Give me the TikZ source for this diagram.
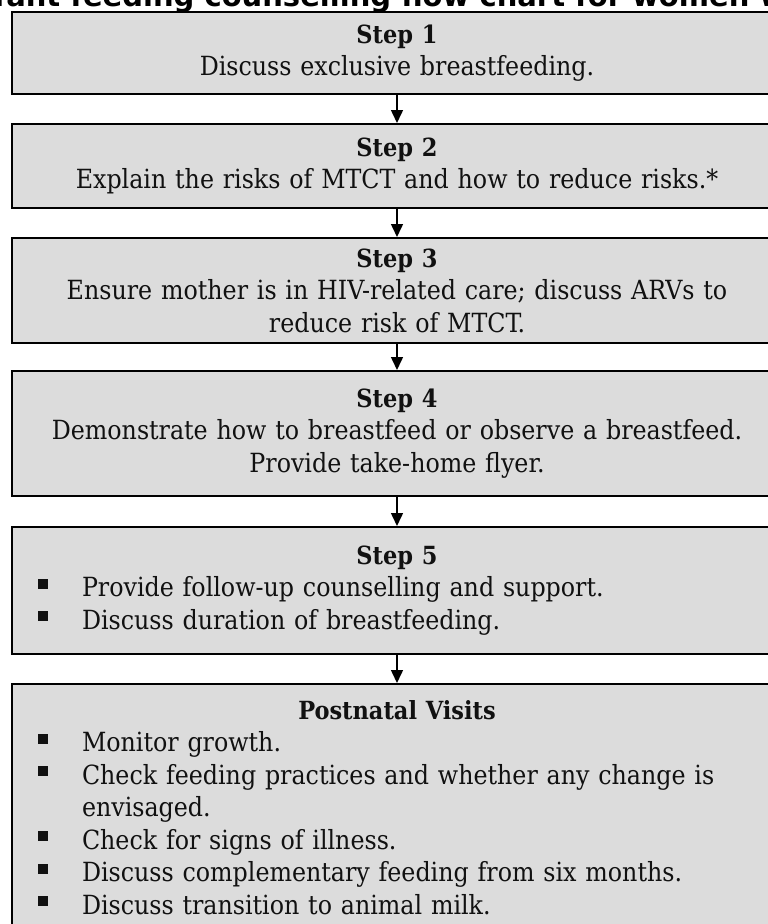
\documentclass[tikz,border=0pt]{standalone}
\usepackage{fontspec}
\setmainfont{DejaVu Serif Condensed}
\newfontfamily\titlefont{DejaVu Sans}
\usetikzlibrary{arrows.meta,positioning}
\definecolor{boxgray}{HTML}{DCDCDC}
\definecolor{textdark}{HTML}{111111}
\newcommand{\bul}{\makebox[55pt][l]{\hspace*{11pt}\rule[8pt]{10pt}{10pt}}}
\newcommand{\head}[1]{{\bfseries\fontsize{25}{32.5}\selectfont #1}}

\begin{document}
\begin{tikzpicture}[x=1pt, y=1pt, >={Triangle[length=13pt,width=12pt]},
    stepbox/.style={draw=black, line width=2pt, fill=boxgray, text=textdark,
        text width=740pt, inner xsep=15pt, align=center,
        font=\fontsize{26.4}{32.5}\selectfont, minimum height=#1},
    listbox/.style={stepbox=#1, align=left}]

    % Page
    \useasboundingbox (0,0) rectangle (768,-924);

    % Title (cut by the page edge)
    \node[anchor=base west, inner sep=0pt, font=\titlefont\bfseries\fontsize{29}{32}\selectfont] (title) at (-38,-6)
        {Infant feeding counselling flow chart for women with HIV};

    % Steps
    \node[stepbox=82pt, anchor=north] (step1) at (397,-11)
        {\head{Step 1}\\Discuss exclusive breastfeeding.};
    \node[stepbox=84pt, below=28pt of step1] (step2)
        {\head{Step 2}\\Explain the risks of MTCT and how to reduce risks.*};
    \node[stepbox=105pt, below=28pt of step2] (step3)
        {\head{Step 3}\\Ensure mother is in HIV-related care; discuss ARVs to\\reduce risk of MTCT.};
    \node[stepbox=125pt, below=26pt of step3] (step4)
        {\head{Step 4}\\Demonstrate how to breastfeed or observe a breastfeed.\\Provide take-home flyer.};
    \node[listbox=127pt, below=29pt of step4] (step5)
        {\makebox[\linewidth]{\head{Step 5}}\\
         \bul Provide follow-up counselling and support.\\
         \bul Discuss duration of breastfeeding.};
    \node[listbox=247pt, below=28pt of step5] (visits)
        {\makebox[\linewidth]{\head{Postnatal Visits}}\\
         \bul Monitor growth.\\
         \bul Check feeding practices and whether any change is\\
         \hspace*{55pt}envisaged.\\
         \bul Check for signs of illness.\\
         \bul Discuss complementary feeding from six months.\\
         \bul Discuss transition to animal milk.};

    % Arrows
    \foreach \a/\b in {step1/step2, step2/step3, step3/step4, step4/step5, step5/visits}
        \draw[->, line width=1.5pt] (\a.south) -- (\b.north);

\end{tikzpicture}
\end{document}
